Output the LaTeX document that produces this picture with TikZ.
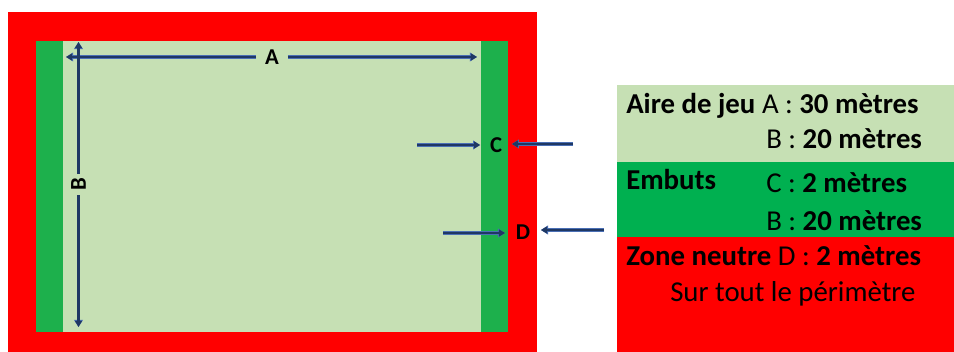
\documentclass[tikz,border=0pt]{standalone}
\usepackage{fontspec}
\setmainfont{Carlito}
\usetikzlibrary{arrows.meta}
\definecolor{zred}{HTML}{FF0000}
\definecolor{zlight}{HTML}{C6E0B4}
\definecolor{zgreen}{HTML}{1DB04C}
\definecolor{lgreen}{HTML}{00B050}
\definecolor{navy}{HTML}{1F3864}
\definecolor{outl}{HTML}{4A6FB5}
\begin{document}
\begin{tikzpicture}[x=0.75pt,y=-0.75pt,
  dim/.style={draw=navy, line width=1.9pt, -{Triangle[length=4.6pt,width=5.2pt]},
     preaction={draw=outl, line width=2.7pt, -{Triangle[length=5.3pt,width=6.4pt]}}},
  lbl/.style={font=\fontsize{17}{20}\selectfont\bfseries, inner ysep=1pt},
  leg/.style={anchor=base west, inner sep=0pt, font=\fontsize{21.6}{26}\selectfont}
]
\useasboundingbox (0,0) rectangle (954,352);
\fill[white] (0,0) rectangle (954,352);
% field
\fill[zred] (8.3,11.7) rectangle (536.7,352);
\fill[zgreen] (36,41) rectangle (508.3,332);
\fill[zlight] (63.3,41) rectangle (480.7,332);
% legend panel
\fill[zlight] (617,85) rectangle (954,162);
\fill[lgreen] (617,162) rectangle (954,237.5);
\fill[zred] (617,237.5) rectangle (954,352);

% dimension A
\node[lbl, inner xsep=6.5pt] (A) at (272,57) {A};
\coordinate (Al) at (66,57);
\coordinate (Ar) at (477,57);
\draw[dim] (A.west) -- (Al);
\draw[dim] (A.east) -- (Ar);
% dimension B
\node[lbl, rotate=90, inner xsep=3.2pt] (B) at (78.5,184.5) {B};
\coordinate (Bt) at (78.5,42);
\coordinate (Bb) at (78.5,327);
\draw[dim] (B.east) -- (Bt);
\draw[dim] (B.west) -- (Bb);
% C
\node[lbl, inner xsep=7.2pt] (C) at (496,145) {C};
\coordinate (Cl) at (417,145);
\coordinate (Cr) at (573,144);
\draw[dim] (Cl) -- (Cl -| C.west);
\draw[dim] (Cr) -- (Cr -| C.east);
% D
\node[lbl, inner xsep=7.9pt] (D) at (523,232) {D};
\coordinate (Dl) at (443,233);
\coordinate (Dr) at (604,230);
\draw[dim] (Dl) -- (Dl -| D.west);
\draw[dim] (Dr) -- (Dr -| D.east);

% legend text
\node[leg] (r1) at (626,113.3) {\textbf{Aire de jeu} A : \textbf{30 mètres}};
\node[leg] (r2) at (766,148.3) {B : \textbf{20 mètres}};
\node[leg] (r3a) at (626,190) {\textbf{Embuts}};
\node[leg] (r3b) at (766,192.3) {C : \textbf{2 mètres}};
\node[leg] (r4) at (766,230.7) {B : \textbf{20 mètres}};
\node[leg] (r5) at (626,265.3) {\textbf{Zone neutre} D : \textbf{2 mètres}};
\node[leg] (r6) at (670,302) {Sur tout le périmètre};
\end{tikzpicture}
\end{document}
